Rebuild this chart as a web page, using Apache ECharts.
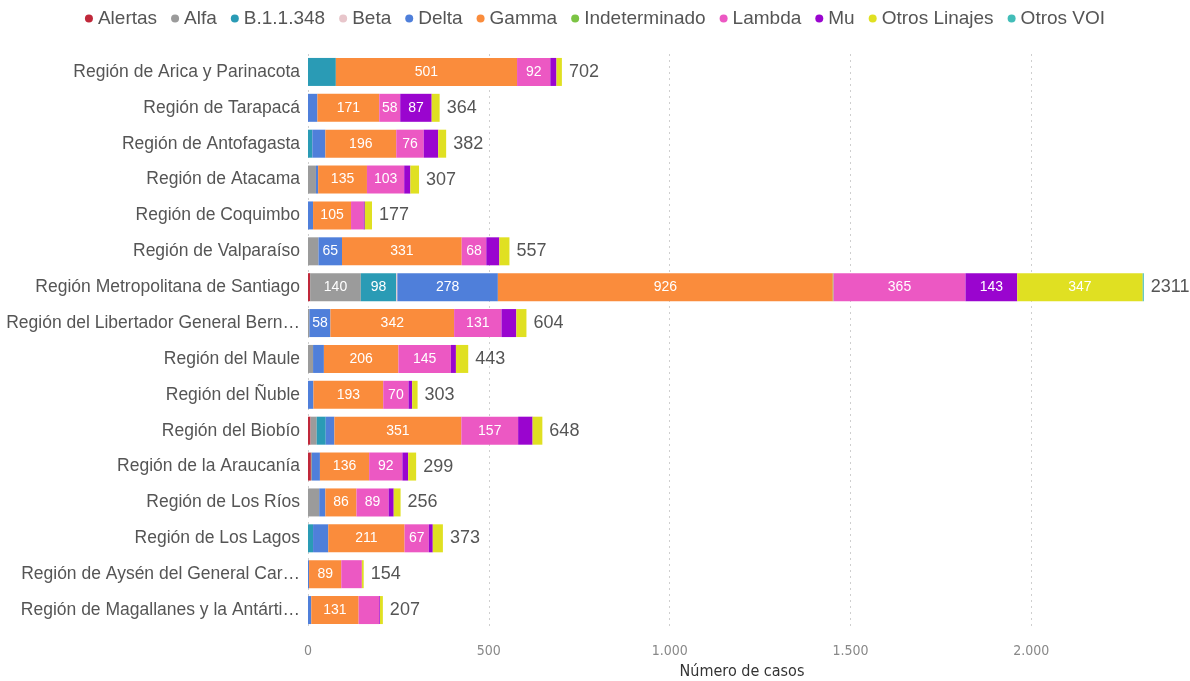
<!DOCTYPE html>
<html>
<head>
<meta charset="utf-8">
<script src="https://cdn.jsdelivr.net/npm/echarts@6/dist/echarts.min.js"></script>
<style>html,body{margin:0;padding:0;background:#fff}#c{width:1190px;height:681px}</style>
</head>
<body>
<div id="c"></div>
<script>
const regions = [
  "Región de Arica y Parinacota",
  "Región de Tarapacá",
  "Región de Antofagasta",
  "Región de Atacama",
  "Región de Coquimbo",
  "Región de Valparaíso",
  "Región Metropolitana de Santiago",
  "Región del Libertador General Bernardo O'Higgins",
  "Región del Maule",
  "Región del Ñuble",
  "Región del Biobío",
  "Región de la Araucanía",
  "Región de Los Ríos",
  "Región de Los Lagos",
  "Región de Aysén del General Carlos Ibáñez del Campo",
  "Región de Magallanes y la Antártica Chilena"
];
const lineages = ["Alertas","Alfa","B.1.1.348","Beta","Delta","Gamma","Indeterminado","Lambda","Mu","Otros Linajes","Otros VOI"];
const alertas       = [0,0,0,0,0,0,6,0,0,0,7,8,0,0,0,0];
const alfa          = [0,0,0,22,0,29,140,4,14,0,17,3,31,0,0,0];
const b11348        = [77,0,12,0,0,0,98,0,0,0,25,0,0,14,0,0];
const beta          = [0,0,0,0,0,0,3,0,0,0,0,0,0,0,0,0];
const delta         = [0,26,36,6,14,65,278,58,30,15,24,22,17,42,3,9];
const gamma         = [501,171,196,135,105,331,926,342,206,193,351,136,86,211,89,131];
const indeterminado = [0,0,0,0,0,0,2,0,0,0,0,0,0,0,0,0];
const lambda        = [92,58,76,103,35,68,365,131,145,70,157,92,89,67,57,57];
const mu            = [17,87,40,17,3,36,143,41,14,10,40,16,14,11,0,2];
const otrosLinajes  = [15,22,22,24,20,28,347,28,34,15,27,22,19,28,5,8];
const otrosVOI      = [0,0,0,0,0,0,3,0,0,0,0,0,0,0,0,0];
const xTicks = [0,500,1000,1500,2000];
const unlabeled = [["Región de Arica y Parinacota","B.1.1.348"]];

const seriesValues = [alertas,alfa,b11348,beta,delta,gamma,indeterminado,lambda,mu,otrosLinajes,otrosVOI];
const colors = ["#C0283A","#9B9B9B","#2A9BB5","#E8C6CB","#4F7FDA","#FA8C3C","#7CC444","#EC58C3","#9A05CF","#E0E022","#42BDB8"];
const totals = regions.map((r,i)=>seriesValues.reduce((s,a)=>s+a[i],0));
const FONT = "'Liberation Sans', Arial, sans-serif";
const COND = "'DejaVu Sans Condensed', 'Liberation Sans Narrow', sans-serif";

const series = lineages.map((name,k)=>({
  name: name,
  type: 'bar',
  stack: 'total',
  barWidth: 28,
  itemStyle: {color: colors[k]},
  emphasis: {disabled: true},
  label: {
    show: true,
    position: 'inside',
    color: '#fff',
    fontSize: 14,
    fontFamily: FONT,
    formatter: p => {
      if (p.value < 58) return '';
      if (unlabeled.some(u => u[0] === p.name && u[1] === name)) return '';
      return String(p.value);
    }
  },
  data: seriesValues[k]
}));
series[series.length-1].label = {
  show: true,
  position: 'right',
  distance: 7,
  color: '#555',
  fontSize: 18,
  fontFamily: FONT,
  formatter: p => String(totals[p.dataIndex])
};

const grid = '#cfcfcf';
const chart = echarts.init(document.getElementById('c'));
chart.setOption({
  animation: false,
  color: colors,
  legend: {
    top: 4,
    left: 'center',
    icon: 'circle',
    itemWidth: 8,
    itemHeight: 8,
    itemGap: 14,
    textStyle: {fontSize: 19, color: '#555', fontFamily: FONT},
    data: lineages
  },
  grid: {left: 308, right: 14, top: 54, bottom: 53, containLabel: false, outerBoundsMode: 'none'},
  xAxis: {
    type: 'value',
    min: 0,
    max: 2400,
    interval: 500,
    name: 'Número de casos',
    nameLocation: 'middle',
    nameGap: 36,
    nameTextStyle: {fontSize: 16, color: '#333', fontFamily: COND},
    axisLine: {show: false},
    axisTick: {show: false},
    splitLine: {show: true, lineStyle: {type: [2,4], color: [grid,grid,grid,grid,grid,'rgba(0,0,0,0)']}},
    axisLabel: {
      fontSize: 14, color: '#888', margin: 16,
      fontFamily: COND,
      formatter: v => xTicks.includes(v) ? v.toLocaleString('de-DE') : ''
    }
  },
  yAxis: {
    type: 'category',
    inverse: true,
    data: regions,
    axisLine: {show: false},
    axisTick: {show: false},
    axisLabel: {
      fontSize: 17.5, color: '#555', margin: 8, fontFamily: FONT,
      width: 296, overflow: 'truncate', ellipsis: '…'
    }
  },
  series: series
});
</script>
</body>
</html>
